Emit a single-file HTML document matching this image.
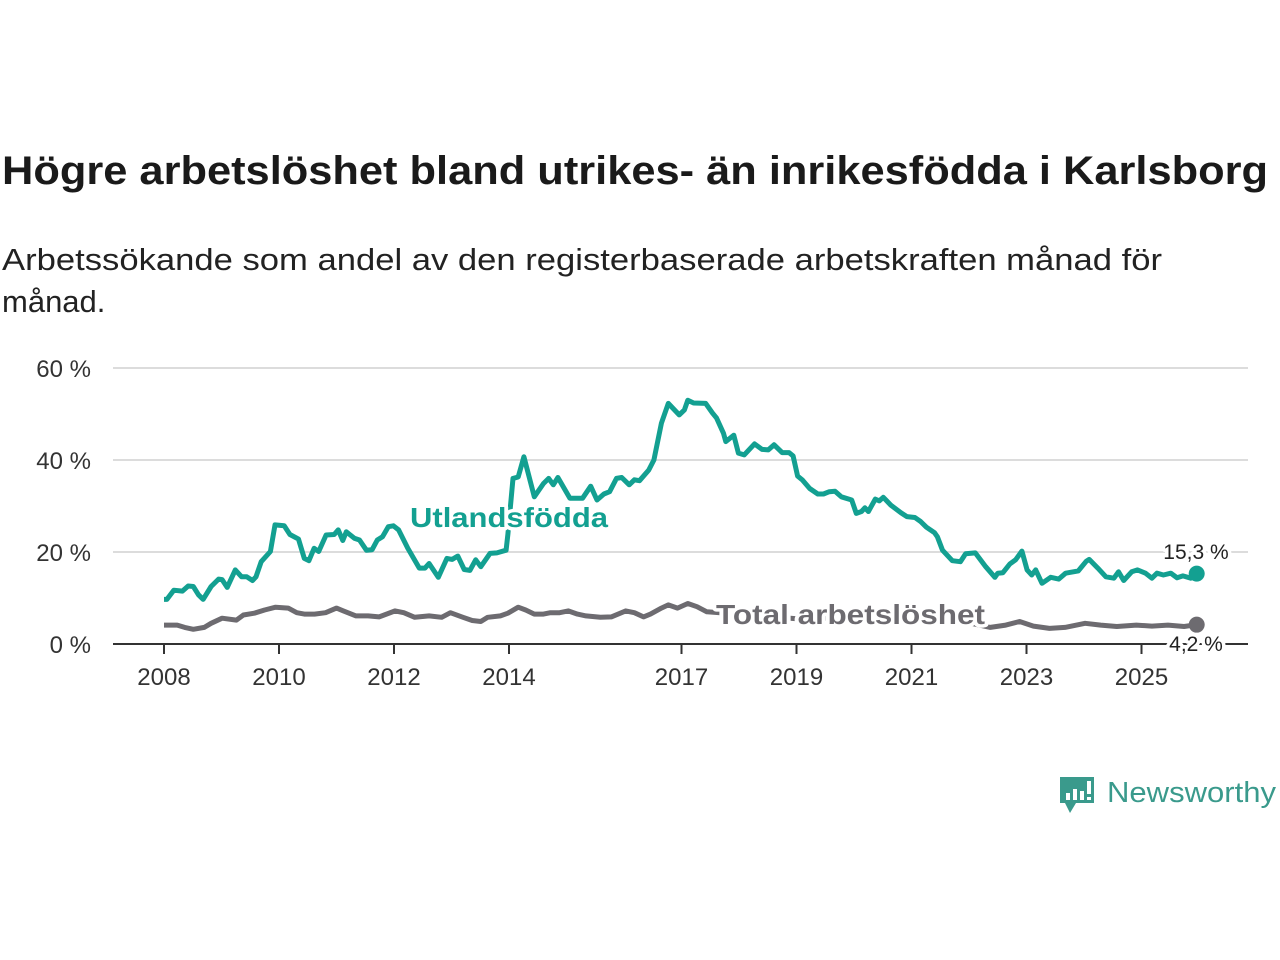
<!DOCTYPE html>
<html><head><meta charset="utf-8"><style>
html,body{margin:0;padding:0;background:#fff;}
svg{display:block;font-family:"Liberation Sans","DejaVu Sans",sans-serif;}
</style></head><body>
<svg id="chart" width="1280" height="960" viewBox="0 0 1280 960">
<text x="2" y="184" font-size="40" font-weight="bold" fill="#1a1a1a" textLength="1266" lengthAdjust="spacingAndGlyphs">Högre arbetslöshet bland utrikes- än inrikesfödda i Karlsborg</text>
<text x="2" y="270" font-size="31" fill="#222" textLength="1160" lengthAdjust="spacingAndGlyphs">Arbetssökande som andel av den registerbaserade arbetskraften månad för</text>
<text x="2" y="312" font-size="31" fill="#222">månad.</text>
<g id="grid"></g>
<g id="axes"></g>
<g id="series"></g>
<g id="labels"></g>
<g>
<path d="M1060 777 h34 v26 h-18 l-6 10 l-5 -10 h-5 z" fill="#3a9a8c"/>
<rect x="1066" y="793" width="4" height="7" fill="#fff"/><rect x="1073" y="789" width="4" height="11" fill="#fff"/><rect x="1080" y="791" width="4" height="9" fill="#fff"/><rect x="1087" y="781" width="4" height="13" fill="#fff"/><rect x="1087" y="797" width="4" height="3" fill="#fff"/>
<text x="1107" y="802" font-size="29" fill="#3a9a8c" textLength="169" lengthAdjust="spacingAndGlyphs">Newsworthy</text>
</g>
</svg>
<script>
const yTicks = [0, 20, 40, 60];
const yTickLabels = ["0 %", "20 %", "40 %", "60 %"];
const xTicks = [2008, 2010, 2012, 2014, 2017, 2019, 2021, 2023, 2025];
const xTickLabels = ["2008","2010","2012","2014","2017","2019","2021","2023","2025"];
const foreignDates = [2008.0,2008.05,2008.17,2008.32,2008.42,2008.51,2008.60,2008.68,2008.82,2008.95,2009.01,2009.10,2009.24,2009.35,2009.44,2009.54,2009.60,2009.69,2009.85,2009.93,2010.09,2010.19,2010.34,2010.44,2010.52,2010.61,2010.69,2010.82,2010.96,2011.03,2011.11,2011.17,2011.31,2011.40,2011.52,2011.62,2011.71,2011.80,2011.90,2011.99,2012.08,2012.24,2012.44,2012.54,2012.61,2012.77,2012.92,2013.01,2013.11,2013.22,2013.32,2013.42,2013.51,2013.67,2013.79,2013.95,2013.98,2014.07,2014.16,2014.26,2014.44,2014.60,2014.69,2014.77,2014.85,2015.06,2015.28,2015.42,2015.53,2015.65,2015.75,2015.87,2015.96,2016.09,2016.18,2016.27,2016.43,2016.52,2016.65,2016.77,2016.96,2017.05,2017.11,2017.21,2017.42,2017.54,2017.61,2017.73,2017.77,2017.91,2017.99,2018.09,2018.27,2018.40,2018.51,2018.61,2018.75,2018.87,2018.94,2019.02,2019.10,2019.23,2019.37,2019.47,2019.57,2019.67,2019.78,2019.96,2020.04,2020.13,2020.19,2020.25,2020.37,2020.44,2020.51,2020.64,2020.82,2020.92,2021.06,2021.16,2021.26,2021.40,2021.45,2021.54,2021.71,2021.85,2021.94,2022.11,2022.29,2022.45,2022.50,2022.59,2022.71,2022.81,2022.92,2023.01,2023.09,2023.16,2023.27,2023.42,2023.56,2023.68,2023.90,2024.04,2024.09,2024.24,2024.38,2024.52,2024.60,2024.69,2024.83,2024.93,2025.07,2025.18,2025.27,2025.38,2025.51,2025.62,2025.72,2025.86,2025.96];
const foreignValues = [9.7,9.7,11.7,11.5,12.6,12.5,10.7,9.7,12.5,14.1,14.0,12.3,16.1,14.6,14.6,13.8,14.6,17.9,20.1,25.9,25.7,23.8,22.8,18.6,18.1,20.8,20.1,23.7,23.8,24.8,22.5,24.4,23.0,22.6,20.4,20.5,22.6,23.3,25.5,25.7,24.8,20.8,16.5,16.5,17.5,14.5,18.6,18.4,19.1,16.2,16.0,18.3,16.8,19.7,19.8,20.4,23.9,36.0,36.3,40.7,32.0,34.9,36.0,34.6,36.2,31.7,31.7,34.3,31.3,32.6,33.1,36.0,36.2,34.6,35.7,35.5,37.8,40.0,48.0,52.3,49.8,50.9,53.0,52.4,52.3,50.2,49.1,45.8,44.0,45.4,41.5,41.1,43.5,42.3,42.2,43.3,41.6,41.6,40.9,36.5,35.7,33.8,32.6,32.6,33.1,33.2,32.0,31.3,28.4,28.8,29.6,28.8,31.5,31.1,31.9,30.2,28.5,27.7,27.5,26.6,25.4,24.2,23.3,20.4,18.1,17.9,19.6,19.8,16.8,14.5,15.4,15.5,17.4,18.3,20.2,16.1,15.0,16.1,13.2,14.5,14.1,15.4,15.9,18.0,18.4,16.5,14.6,14.3,15.7,13.8,15.7,16.1,15.4,14.3,15.4,15.0,15.4,14.4,14.8,14.3,15.3];
const totalDates = [2008.0,2008.23,2008.36,2008.51,2008.70,2008.82,2009.01,2009.26,2009.38,2009.57,2009.75,2009.94,2010.16,2010.31,2010.44,2010.62,2010.81,2011.00,2011.12,2011.34,2011.55,2011.74,2012.02,2012.17,2012.36,2012.61,2012.83,2012.98,2013.20,2013.36,2013.51,2013.63,2013.85,2013.98,2014.16,2014.29,2014.44,2014.60,2014.72,2014.88,2015.03,2015.19,2015.34,2015.59,2015.78,2016.03,2016.18,2016.34,2016.46,2016.65,2016.77,2016.93,2017.11,2017.27,2017.44,2018.0,2018.5,2019.0,2019.5,2020.0,2020.4,2020.8,2021.2,2021.6,2022.0,2022.37,2022.64,2022.88,2023.12,2023.40,2023.67,2024.02,2024.29,2024.57,2024.91,2025.18,2025.46,2025.74,2025.96];
const totalValues = [4.1,4.1,3.6,3.2,3.6,4.5,5.6,5.2,6.3,6.7,7.4,8.0,7.8,6.8,6.5,6.5,6.8,7.8,7.2,6.1,6.1,5.9,7.2,6.8,5.8,6.1,5.8,6.8,5.8,5.1,4.9,5.8,6.1,6.7,8.0,7.4,6.5,6.5,6.8,6.8,7.2,6.5,6.1,5.8,5.9,7.2,6.8,5.9,6.5,7.8,8.5,7.8,8.8,8.1,7.0,6.5,6.0,5.5,5.6,5.8,6.5,6.2,5.9,5.5,4.6,3.6,4.1,4.9,3.9,3.4,3.6,4.5,4.1,3.8,4.1,3.9,4.1,3.8,4.2];

const NS = "http://www.w3.org/2000/svg";
const X0 = 164, PXY = 57.5, Y0 = 644, PXV = 4.6;
function xs(d){ return X0 + (d - 2008) * PXY; }
function ys(v){ return Y0 - v * PXV; }
function mk(tag, attrs, parent){ const e = document.createElementNS(NS, tag); for (const k in attrs) e.setAttribute(k, attrs[k]); parent.appendChild(e); return e; }

const grid = document.getElementById('grid');
yTicks.forEach((t, i) => {
  if (t !== 0) {
    const l = mk('line', {x1:113, x2:1248, y1:ys(t), y2:ys(t), stroke:'#dcdcdc', 'stroke-width':2}, grid);
    
    
  }
  const tx = mk('text', {x:91, y:ys(t)+9, 'text-anchor':'end', 'font-size':24, fill:'#333'}, grid);
  tx.textContent = yTickLabels[i];
  
  
});
const axes = document.getElementById('axes');
const ax = mk('line', {x1:113, x2:1248, y1:Y0, y2:Y0, stroke:'#333', 'stroke-width':2}, axes);


xTicks.forEach((t, i) => {
  const tk = mk('line', {x1:xs(t), x2:xs(t), y1:Y0, y2:Y0+10, stroke:'#333', 'stroke-width':2}, axes);
  
  
  const tx = mk('text', {x:xs(t), y:Y0+41, 'text-anchor':'middle', 'font-size':24, fill:'#333'}, axes);
  tx.textContent = xTickLabels[i];
  
  
});

const series = document.getElementById('series');
function path(dates, vals){ return dates.map((d,i)=>(i?'L':'M')+xs(d).toFixed(1)+' '+ys(vals[i]).toFixed(1)).join(' '); }
const pt = mk('path', {d:path(totalDates,totalValues), fill:'none', stroke:'#6d6b70', 'stroke-width':5, 'stroke-linejoin':'round'}, series);


const pf = mk('path', {d:path(foreignDates,foreignValues), fill:'none', stroke:'#13a091', 'stroke-width':5, 'stroke-linejoin':'round'}, series);


const lf = foreignDates.length-1, lt = totalDates.length-1;
const df = mk('circle', {cx:xs(foreignDates[lf]), cy:ys(foreignValues[lf]), r:8, fill:'#13a091'}, series);


const dt = mk('circle', {cx:xs(totalDates[lt]), cy:ys(totalValues[lt]), r:8, fill:'#6d6b70'}, series);



const labels = document.getElementById('labels');
function lbl(txt, x, y, size, color, weight, anchor, name, len){
  const t = mk('text', {x:x, y:y, 'font-size':size, fill:color, 'font-weight':weight, 'text-anchor':anchor, stroke:'#fff', 'stroke-width':7, 'paint-order':'stroke', 'stroke-linejoin':'round'}, labels);
  if (len) { t.setAttribute('textLength', len); t.setAttribute('lengthAdjust', 'spacingAndGlyphs'); }
  t.textContent = txt;
  
  
}
lbl('Utlandsfödda', 410, 527, 28, '#13a091', 'bold', 'start', 'foreign-born-label', 198);
lbl('Total arbetslöshet', 716, 624, 28, '#6d6b70', 'bold', 'start', 'total-label', 269);
lbl(String(foreignValues[lf]).replace('.', ',') + ' %', 1196, 559, 21, '#222', 'normal', 'middle', 'foreign-born-end-value');
lbl(String(totalValues[lt]).replace('.', ',') + ' %', 1196, 651, 21, '#222', 'normal', 'middle', 'total-end-value');
</script>
</body></html>
